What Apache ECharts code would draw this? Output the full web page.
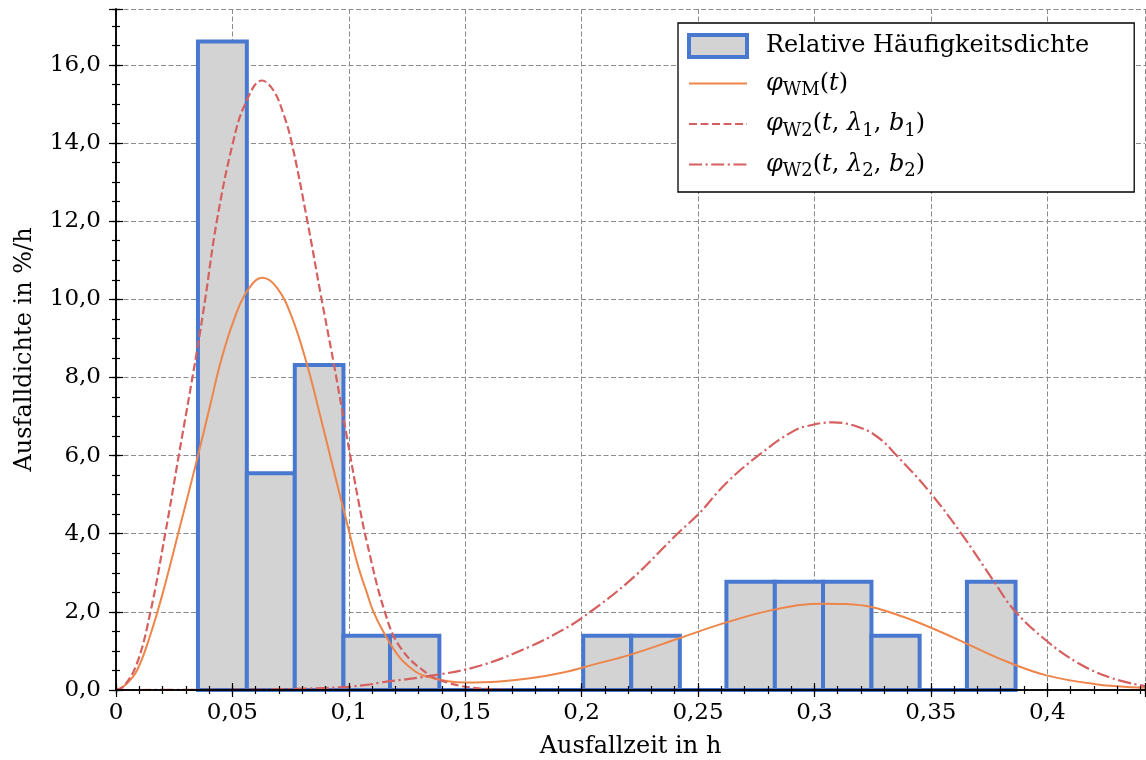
<!DOCTYPE html>
<html>
<head>
<meta charset="utf-8">
<script src="https://cdn.jsdelivr.net/npm/echarts@6/dist/echarts.min.js"></script>
<style>
  html, body { margin: 0; padding: 0; background: #ffffff; }
  #chart { width: 1146px; height: 760px; }
</style>
</head>
<body>
<div id="chart"></div>
<script>
// Histogram of failure times: bin edges (h) and relative frequency density (%/h)
const binEdges = [0.0352, 0.0562, 0.0768, 0.0977, 0.1177, 0.1389, 0.1594, 0.1800, 0.2007,
                  0.2213, 0.2422, 0.2622, 0.2830, 0.3037, 0.3245, 0.3452, 0.3655, 0.3864];
const density = [16.6, 5.55, 8.32, 1.39, 1.39, 0, 0, 0, 1.39, 1.39, 0, 2.77, 2.77, 2.77, 1.39, 0, 2.77];

// Mixed Weibull density φWM(t)
const phiWM = [
  [0, 0], [0.004, 0.13], [0.009, 0.5], [0.0147, 1.4], [0.0204, 2.55], [0.0269, 4.05],
  [0.0312, 5.05], [0.035, 5.95], [0.0405, 7.3], [0.0452, 8.45], [0.0505, 9.45],
  [0.0562, 10.2], [0.0629, 10.55], [0.0691, 10.3], [0.0755, 9.55], [0.0822, 8.3],
  [0.088, 6.95], [0.0934, 5.65], [0.0991, 4.3], [0.1041, 3.15], [0.1077, 2.5],
  [0.1106, 2.0], [0.1152, 1.45], [0.122, 0.82], [0.128, 0.5], [0.132, 0.37],
  [0.142, 0.23], [0.1506, 0.19], [0.1635, 0.21], [0.1778, 0.3], [0.1921, 0.45],
  [0.205, 0.65], [0.2207, 0.9], [0.2422, 1.33], [0.2622, 1.73], [0.2837, 2.07],
  [0.3037, 2.21], [0.3134, 2.2], [0.3249, 2.12], [0.3378, 1.88], [0.3506, 1.58],
  [0.3649, 1.2], [0.3792, 0.81], [0.3993, 0.38], [0.4207, 0.15], [0.442, 0.06]
];

// First Weibull component φW2(t, λ1, b1)
const phiW2a = [
  [0, 0], [0.0033, 0.09], [0.009, 0.68], [0.0147, 1.97], [0.0212, 4.02], [0.0269, 5.98],
  [0.0349, 8.72], [0.0383, 10.0], [0.0433, 12.0], [0.0502, 14.0], [0.0555, 15.0],
  [0.0627, 15.6], [0.0676, 15.35], [0.0719, 14.75], [0.0755, 14.0], [0.0822, 12.0],
  [0.088, 10.1], [0.0934, 8.4], [0.0991, 6.5], [0.1041, 4.85], [0.1077, 3.8],
  [0.1152, 2.05], [0.122, 1.1], [0.1335, 0.43], [0.1435, 0.17], [0.156, 0.04], [0.17, 0.0]
];

// Second Weibull component φW2(t, λ2, b2)
const phiW2b = [
  [0, 0], [0.04, 0.005], [0.07, 0.02], [0.0963, 0.07], [0.109, 0.14], [0.1134, 0.19],
  [0.1349, 0.36], [0.1563, 0.62], [0.1778, 1.11], [0.1907, 1.5], [0.2, 1.84],
  [0.2207, 2.8], [0.2415, 4.02], [0.25, 4.49], [0.2622, 5.3], [0.2765, 6.03],
  [0.2908, 6.62], [0.2994, 6.79], [0.308, 6.85], [0.3194, 6.72], [0.3277, 6.45],
  [0.3349, 6.03], [0.3492, 5.09], [0.3635, 3.97], [0.3771, 2.78], [0.3857, 2.05],
  [0.3993, 1.28], [0.4136, 0.68], [0.4279, 0.3], [0.442, 0.1]
];

// Tick labels (German decimal comma)
const xTickLabels = ['0', '0,05', '0,1', '0,15', '0,2', '0,25', '0,3', '0,35', '0,4'];
const yTickLabels = ['0,0', '2,0', '4,0', '6,0', '8,0', '10,0', '12,0', '14,0', '16,0'];

const X_MAX = 0.442, X_STEP = 0.05, X_MINOR = 0.01;
const Y_MAX = 17.43, Y_STEP = 2, Y_MINOR = 0.5;

const FONT = 'DejaVu Serif';
const BLUE = '#4878d0', ORANGE = '#ee854a', RED = '#d65f5f', FILL = '#d3d3d3';
const NONE = 'rgba(0,0,0,0)';

function labelFor(list, step) {
  return function (v) {
    const i = Math.round(v / step);
    return (Math.abs(v - i * step) < 1e-6 && list[i] !== undefined) ? list[i] : '';
  };
}

const gridLine = { show: true, lineStyle: { color: '#8c8c8c', width: 1, type: [5, 2.5] } };
const spine = { show: true, lineStyle: { color: '#000', width: 1.5 } };

function frameAxis(position, max, step, tickLen, showLine) {
  return {
    type: 'value', position: position, min: 0, max: max, interval: step, z: 10,
    axisLine: showLine ? spine : { show: false },
    axisTick: { show: true, inside: true, length: tickLen, lineStyle: { color: '#000', width: 1.2 } },
    axisLabel: { show: false },
    splitLine: { show: false }
  };
}

const histData = density.map((d, i) => [binEdges[i], binEdges[i + 1], d]);

const chart = echarts.init(document.getElementById('chart'), null, { renderer: 'canvas' });

const legendNames = {
  'Relative Häufigkeitsdichte': '{n|Relative Häufigkeitsdichte}',
  'φWM(t)': '{i|φ}{s|WM}{n|(}{i|t}{n|)}',
  'φW2(t,λ1,b1)': '{i|φ}{s|W2}{n|(}{i|t}{n|, }{i|λ}{s|1}{n|, }{i|b}{s|1}{n|)}',
  'φW2(t,λ2,b2)': '{i|φ}{s|W2}{n|(}{i|t}{n|, }{i|λ}{s|2}{n|, }{i|b}{s|2}{n|)}'
};

const lineLegendStyle = { color: NONE, borderColor: NONE, borderWidth: 0 };

chart.setOption({
  animation: false,
  backgroundColor: '#ffffff',
  grid: { left: 116, right: 1, top: 9, bottom: 70, outerBoundsMode: 'none', containLabel: false },
  xAxis: [
    {
      type: 'value', position: 'bottom', min: 0, max: X_MAX, interval: X_STEP, z: 0,
      axisLine: { show: false }, axisTick: { show: false },
      splitLine: gridLine,
      axisLabel: { formatter: labelFor(xTickLabels, X_STEP), fontFamily: FONT, fontSize: 23, color: '#000', margin: 12, showMaxLabel: false },
      name: 'Ausfallzeit in h', nameLocation: 'middle', nameGap: 45,
      nameTextStyle: { fontFamily: FONT, fontSize: 24, color: '#000' }
    },
    frameAxis('bottom', X_MAX, X_STEP, 7, true),
    frameAxis('bottom', X_MAX, X_MINOR, 4, false),
    frameAxis('top', X_MAX, X_STEP, 7, true),
    frameAxis('top', X_MAX, X_MINOR, 4, false)
  ],
  yAxis: [
    {
      type: 'value', position: 'left', min: 0, max: Y_MAX, interval: Y_STEP, z: 0,
      axisLine: { show: false }, axisTick: { show: false },
      splitLine: gridLine,
      axisLabel: { formatter: labelFor(yTickLabels, Y_STEP), fontFamily: FONT, fontSize: 23, color: '#000', margin: 15, showMaxLabel: false },
      name: 'Ausfalldichte in %/h', nameLocation: 'middle', nameGap: 79, nameRotate: 90,
      nameTextStyle: { fontFamily: FONT, fontSize: 24, color: '#000' }
    },
    frameAxis('left', Y_MAX, Y_STEP, 7, true),
    frameAxis('left', Y_MAX, Y_MINOR, 4, false),
    frameAxis('right', Y_MAX, Y_STEP, 7, true),
    frameAxis('right', Y_MAX, Y_MINOR, 4, false)
  ],
  legend: {
    orient: 'vertical', left: 678, top: 23,
    padding: [10, 45, 11.5, 9], itemGap: 12.5, itemWidth: 58, itemHeight: 22,
    backgroundColor: '#ffffff', borderColor: '#000', borderWidth: 1.3, borderRadius: 0,
    z: 8,
    data: [
      { name: 'Relative Häufigkeitsdichte', icon: 'rect',
        itemStyle: { color: FILL, borderColor: BLUE, borderWidth: 4 } },
      { name: 'φWM(t)', itemStyle: lineLegendStyle },
      { name: 'φW2(t,λ1,b1)', itemStyle: lineLegendStyle },
      { name: 'φW2(t,λ2,b2)', itemStyle: lineLegendStyle }
    ],
    formatter: name => legendNames[name],
    textStyle: {
      fontFamily: FONT, fontSize: 24, color: '#000', padding: [0, 0, 0, 14],
      rich: {
        n: { fontFamily: FONT, fontSize: 24, color: '#000', lineHeight: 32, verticalAlign: 'middle' },
        i: { fontFamily: FONT, fontSize: 24, fontStyle: 'italic', color: '#000', lineHeight: 32, verticalAlign: 'middle' },
        s: { fontFamily: FONT, fontSize: 18, color: '#000', verticalAlign: 'bottom' }
      }
    }
  },
  series: [
    {
      name: 'Relative Häufigkeitsdichte', type: 'custom', xAxisIndex: 0, yAxisIndex: 0, z: 2,
      itemStyle: { color: FILL, borderColor: BLUE, borderWidth: 4 },
      encode: { x: [0, 1], y: 2 },
      data: histData,
      renderItem: function (params, api) {
        const topLeft = api.coord([api.value(0), api.value(2)]);
        const bottomRight = api.coord([api.value(1), 0]);
        return {
          type: 'rect',
          shape: { x: topLeft[0], y: topLeft[1], width: bottomRight[0] - topLeft[0], height: bottomRight[1] - topLeft[1] },
          style: { fill: FILL, stroke: BLUE, lineWidth: 4 }
        };
      }
    },
    {
      name: 'φWM(t)', type: 'line', xAxisIndex: 0, yAxisIndex: 0, z: 3,
      data: phiWM, smooth: 0.4, symbol: 'none', showSymbol: false,
      color: ORANGE, lineStyle: { color: ORANGE, width: 2 }
    },
    {
      name: 'φW2(t,λ1,b1)', type: 'line', xAxisIndex: 0, yAxisIndex: 0, z: 3,
      data: phiW2a, smooth: 0.4, symbol: 'none', showSymbol: false,
      color: RED, lineStyle: { color: RED, width: 2.2, type: [8, 3.5] }
    },
    {
      name: 'φW2(t,λ2,b2)', type: 'line', xAxisIndex: 0, yAxisIndex: 0, z: 3,
      data: phiW2b, smooth: 0.4, symbol: 'none', showSymbol: false,
      color: RED, lineStyle: { color: RED, width: 2.2, type: [13, 3.5, 2.2, 3.5] }
    }
  ]
});
</script>
</body>
</html>
